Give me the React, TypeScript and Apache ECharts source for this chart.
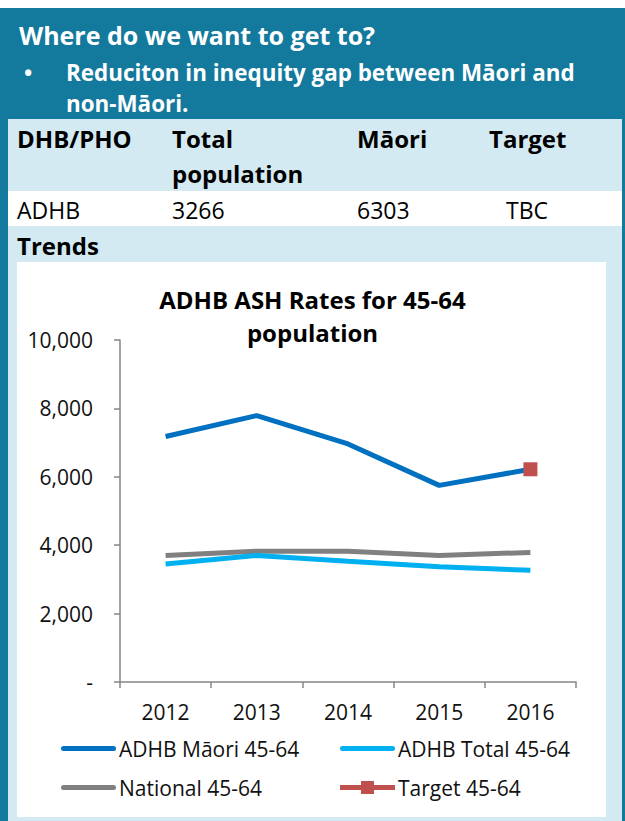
import React, { useEffect, useRef } from "react";
import * as echarts from "echarts";

const years = ["2012", "2013", "2014", "2015", "2016"];
const maori = [7180, 7790, 6960, 5750, 6220];
const total = [3450, 3700, 3530, 3370, 3266];
const national = [3700, 3825, 3825, 3700, 3790];
const target = [null, null, null, null, 6220];

const seriesNames = ["ADHB Māori 45-64", "ADHB Total 45-64", "National 45-64", "Target 45-64"];
const headerTitle = "Where do we want to get to?";
const bulletLines = ["Reduciton in inequity gap between Māori and", "non-Māori."];
const tableHeader = ["DHB/PHO", "Total", "population", "Māori", "Target"];
const tableRow = ["ADHB", "3266", "6303", "TBC"];
const trendsLabel = "Trends";
const chartTitle = "ADHB ASH Rates for 45-64\npopulation";

const TEAL = "#13799d";
const LIGHT = "#d3eaf2";
const FONT = "'Open Sans', Lato, sans-serif";

const LINE_ICON = "path://M2.5,0H52.5A2.5,2.5 0 0 1 52.5,5H2.5A2.5,2.5 0 0 1 2.5,0Z";
const TARGET_ICON = "path://M0,4.5H55V9.5H0Z M21,0.5H34V13.5H21Z";

export default function App() {
  const ref = useRef<HTMLDivElement>(null);
  useEffect(() => {
    if (!ref.current) return;
    const chart = echarts.init(ref.current, null, { renderer: "svg" });
    const txt = (text: string, x: number, y: number, size: number, bold: boolean, fill: string, align = "left") => ({
      type: "text",
      z: 1,
      silent: true,
      style: {
        text,
        x,
        y,
        fill,
        align,
        verticalAlign: "middle",
        font: `${bold ? "bold " : ""}${size}px ${FONT}`,
      },
    });
    const colX = [17, 172, 357, 489];
    const rowX = [17, 172, 357, 506];
    const legendPos = [
      { left: 56, top: 733 },
      { left: 335, top: 733 },
      { left: 56, top: 772 },
      { left: 335, top: 772 },
    ];
    chart.setOption({
      animation: false,
      backgroundColor: "#ffffff",
      textStyle: { fontFamily: FONT },
      graphic: {
        elements: [
          { type: "rect", z: 0, silent: true, shape: { x: 0, y: 8, width: 625, height: 813 }, style: { fill: TEAL } },
          { type: "rect", z: 0, silent: true, shape: { x: 8, y: 119, width: 614, height: 702 }, style: { fill: LIGHT } },
          { type: "rect", z: 0, silent: true, shape: { x: 8, y: 191, width: 614, height: 35 }, style: { fill: "#ffffff" } },
          { type: "rect", z: 0, silent: true, shape: { x: 17, y: 262, width: 589, height: 555 }, style: { fill: "#ffffff" } },
          txt(headerTitle, 19, 35, 25, true, "#ffffff"),
          txt("•", 24, 72, 22, true, "#ffffff"),
          txt(bulletLines[0], 66, 72, 22.4, true, "#ffffff"),
          txt(bulletLines[1], 66, 103, 22.4, true, "#ffffff"),
          txt(tableHeader[0], colX[0], 138, 24, true, "#000000"),
          txt(tableHeader[1], colX[1], 138, 24, true, "#000000"),
          txt(tableHeader[2], colX[1], 173, 24, true, "#000000"),
          txt(tableHeader[3], colX[2], 138, 24, true, "#000000"),
          txt(tableHeader[4], colX[3], 138, 24, true, "#000000"),
          ...tableRow.map((t, i) => txt(t, rowX[i], 210, 23, false, "#000000")),
          txt(trendsLabel, 17, 245, 24, true, "#000000"),
        ],
      },
      title: {
        text: chartTitle,
        left: "center",
        top: 278,
        textStyle: { fontFamily: FONT, fontWeight: "bold", fontSize: 24, lineHeight: 33, color: "#000000" },
      },
      legend: seriesNames.map((n, i) => ({
        data: [{ name: n, icon: i === 3 ? TARGET_ICON : LINE_ICON }],
        left: legendPos[i].left,
        top: legendPos[i].top,
        itemWidth: 55,
        itemHeight: i === 3 ? 14 : 5,
        itemGap: 6,
        textStyle: { fontFamily: FONT, fontSize: 21, color: "#111111", padding: [0, 0, 0, -2] },
        selectedMode: false,
      })),
      grid: { left: 120, right: 49, top: 340, bottom: 139, containLabel: false },
      xAxis: {
        type: "category",
        data: years,
        boundaryGap: true,
        axisLine: { lineStyle: { color: "#868686", width: 1.5 } },
        axisTick: { show: true, length: 6, lineStyle: { color: "#868686", width: 1.5 } },
        axisLabel: { margin: 19, fontSize: 21, color: "#111111", fontFamily: FONT },
        splitLine: { show: false },
      },
      yAxis: {
        type: "value",
        min: 0,
        max: 10000,
        interval: 2000,
        axisLine: { show: true, lineStyle: { color: "#868686", width: 1.5 } },
        axisTick: { show: true, length: 6, lineStyle: { color: "#868686", width: 1.5 } },
        axisLabel: {
          margin: 27,
          fontSize: 21,
          color: "#111111",
          fontFamily: FONT,
          formatter: (v: number) => (v === 0 ? "-" : v.toLocaleString("en-US")),
        },
        splitLine: { show: false },
      },
      series: [
        { name: seriesNames[0], type: "line", data: maori, symbol: "none", lineStyle: { color: "#0070c0", width: 5 }, itemStyle: { color: "#0070c0" }, z: 3 },
        { name: seriesNames[1], type: "line", data: total, symbol: "none", lineStyle: { color: "#00b0f0", width: 5 }, itemStyle: { color: "#00b0f0" }, z: 2 },
        { name: seriesNames[2], type: "line", data: national, symbol: "none", lineStyle: { color: "#808080", width: 5 }, itemStyle: { color: "#808080" }, z: 1 },
        { name: seriesNames[3], type: "line", data: target, symbol: "rect", symbolSize: 14, showSymbol: true, lineStyle: { color: "#c0504d", width: 5 }, itemStyle: { color: "#c0504d" }, z: 4 },
      ],
    });
    return () => chart.dispose();
  }, []);
  return <div ref={ref} style={{ position: "absolute", left: 0, top: 0, width: 625, height: 821 }} />;
}
